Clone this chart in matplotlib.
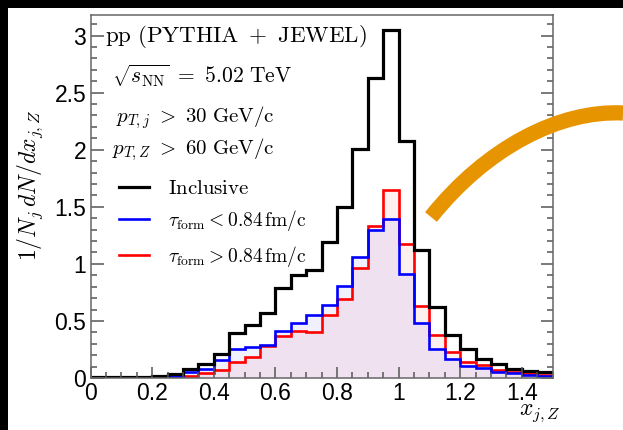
import matplotlib
matplotlib.use('Agg')
import matplotlib.pyplot as plt
import numpy as np
from matplotlib.patches import Rectangle, PathPatch
from matplotlib.path import Path
from matplotlib.lines import Line2D
from matplotlib.ticker import MultipleLocator, FuncFormatter

plt.rcParams['mathtext.fontset'] = 'cm'
plt.rcParams['font.family'] = ['Liberation Sans', 'DejaVu Sans']

# bin edges of x_{j,Z}
edges = np.round(np.arange(0, 1.5001, 0.05), 2)

inclusive = [0.005, 0.005, 0.005, 0.005, 0.02, 0.035, 0.08, 0.12, 0.21, 0.39,
             0.46, 0.57, 0.79, 0.90, 0.95, 1.19, 1.50, 2.01, 2.63, 3.05,
             2.08, 1.12, 0.62, 0.38, 0.25, 0.17, 0.12, 0.08, 0.065, 0.05]
tau_short = [0.003, 0.003, 0.003, 0.004, 0.01, 0.02, 0.05, 0.08, 0.16, 0.25,
             0.27, 0.29, 0.41, 0.48, 0.55, 0.64, 0.81, 1.06, 1.30, 1.39,
             0.91, 0.48, 0.25, 0.17, 0.105, 0.09, 0.05, 0.04, 0.03, 0.02]
tau_long = [0.002, 0.002, 0.002, 0.003, 0.005, 0.01, 0.02, 0.04, 0.07, 0.14,
            0.18, 0.28, 0.37, 0.41, 0.40, 0.55, 0.69, 0.96, 1.33, 1.65,
            1.17, 0.63, 0.38, 0.23, 0.14, 0.11, 0.07, 0.05, 0.04, 0.03]

labels = [r'$\mathrm{Inclusive}$',
          r'$\tau_{\rm form} < 0.84\,{\rm fm/c}$',
          r'$\tau_{\rm form} > 0.84\,{\rm fm/c}$']

W, H = 623, 430
fig = plt.figure(figsize=(W / 100, H / 100), dpi=100)
fig.patch.set_facecolor('black')
fig.patches.append(Rectangle((8 / W, 0), 1, 1 - 8 / H, transform=fig.transFigure,
                             facecolor='white', edgecolor='none', zorder=-5))

def fx(x):
    return x / W

def fy(y):
    return 1 - y / H

L, R, T, B = 90.5, 552.5, 15, 378
ax = fig.add_axes([fx(L), fy(B), (R - L) / W, (B - T) / H])
ax.set_facecolor('white')

ax.stairs(tau_long, edges, fill=True, color='red', alpha=0.06, lw=0)
ax.stairs(tau_short, edges, fill=True, color='blue', alpha=0.06, lw=0)
ax.stairs(tau_long, edges, color='red', lw=1.9, baseline=None)
ax.stairs(tau_short, edges, color='blue', lw=1.9, baseline=None)
ax.stairs(inclusive, edges, color='black', lw=2.3, baseline=None)

ax.set_xlim(0, 1.5)
ax.set_ylim(0, 3.18)

ax.xaxis.set_major_locator(MultipleLocator(0.2))
ax.xaxis.set_minor_locator(MultipleLocator(0.05))
ax.yaxis.set_major_locator(MultipleLocator(0.5))
ax.yaxis.set_minor_locator(MultipleLocator(0.1))
fmt = FuncFormatter(lambda v, p: '%g' % round(v, 2))
ax.xaxis.set_major_formatter(fmt)
ax.yaxis.set_major_formatter(fmt)

ax.tick_params(which='both', direction='in', top=False, right=True,
               color='#555555', labelsize=16.5, width=1.1)
ax.tick_params(axis='y', which='major', length=9, pad=3)
ax.tick_params(axis='y', which='minor', length=4.5)
ax.tick_params(axis='x', which='major', length=8, pad=3)
ax.tick_params(axis='x', which='minor', length=4)
for s in ax.spines.values():
    s.set_color('#666666')
    s.set_linewidth(1.1)

# text block
fig.text(fx(105), fy(42), r'$\mathrm{pp\ (PYTHIA\ +\ JEWEL)}$', fontsize=16.5, va='baseline')
fig.text(fx(112), fy(83), r'$\sqrt{s_{\rm NN}}\ =\ 5.02\ {\rm TeV}$', fontsize=15.5, va='baseline')
fig.text(fx(116), fy(122), r'$p_{T,j}\ >\ 30\ {\rm GeV/c}$', fontsize=15, va='baseline')
fig.text(fx(112), fy(154), r'$p_{T,Z}\ >\ 60\ {\rm GeV/c}$', fontsize=15, va='baseline')

handles = [Line2D([], [], color='black', lw=2.3),
           Line2D([], [], color='blue', lw=1.9),
           Line2D([], [], color='red', lw=1.9)]
leg = ax.legend(handles, labels, loc='upper left',
                bbox_to_anchor=((119 - L) / (R - L), (B - 179) / (B - T)),
                frameon=False, borderpad=0, borderaxespad=0, fontsize=15,
                handlelength=1.45, handletextpad=0.9, labelspacing=0.5)
for t in leg.get_texts()[1:]:
    t.set_fontsize(14)

fig.text(fx(30), fy(185), r'$1/N_j\,dN/dx_{j,Z}$', fontsize=17, rotation=90,
         ha='center', va='center')
fig.text(fx(561), fy(413), r'$x_{j,Z}$', fontsize=17, ha='right', va='center')

# orange curved stroke on the right
verts = [(431, 217), (487, 147), (560, 110), (623, 113)]
path = Path([(fx(x), fy(y)) for x, y in verts],
            [Path.MOVETO, Path.CURVE4, Path.CURVE4, Path.CURVE4])
fig.patches.append(PathPatch(path, transform=fig.transFigure, facecolor='none',
                             edgecolor='#e69500', lw=11, capstyle='butt', zorder=5))

fig.savefig('out.png', dpi=100, facecolor=fig.get_facecolor())
